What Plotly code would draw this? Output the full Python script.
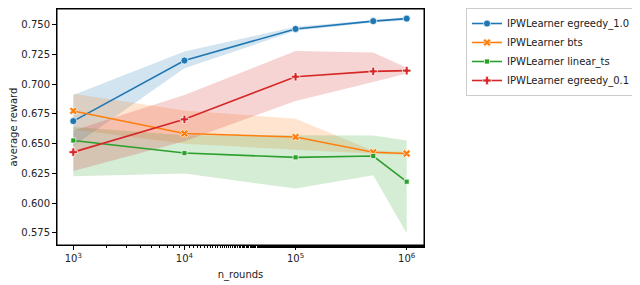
import plotly.graph_objects as go

n_rounds = [1000, 10000, 100000, 500000, 1000000]

series_names = ["IPWLearner egreedy_1.0", "IPWLearner bts", "IPWLearner linear_ts", "IPWLearner egreedy_0.1"]

egreedy10_mean = [0.669, 0.720, 0.7466, 0.7532, 0.7553]
egreedy10_lo = [0.648, 0.7135, 0.745, 0.752, 0.754]
egreedy10_hi = [0.691, 0.7276, 0.7485, 0.7545, 0.7565]

bts_mean = [0.6776, 0.6586, 0.6556, 0.6428, 0.6417]
bts_lo = [0.662, 0.650, 0.645, 0.6415, 0.6405]
bts_hi = [0.692, 0.678, 0.671, 0.644, 0.643]

lints_mean = [0.6527, 0.6421, 0.6385, 0.6396, 0.6180]
lints_lo = [0.6225, 0.625, 0.6122, 0.6234, 0.5745]
lints_hi = [0.664, 0.657, 0.657, 0.6569, 0.6527]

egreedy01_mean = [0.6429, 0.6705, 0.7064, 0.7109, 0.7115]
egreedy01_lo = [0.627, 0.652, 0.686, 0.702, 0.709]
egreedy01_hi = [0.661, 0.691, 0.728, 0.7268, 0.714]

y_ticks = [0.575, 0.600, 0.625, 0.650, 0.675, 0.700, 0.725, 0.750]
x_ticks = [1000, 10000, 100000, 1000000]
x_ticklabels = ["10<sup>3</sup>", "10<sup>4</sup>", "10<sup>5</sup>", "10<sup>6</sup>"]

colors = ["#1f77b4", "#ff7f0e", "#2ca02c", "#d62728"]
fills = ["rgba(31,119,180,0.2)", "rgba(255,127,14,0.2)", "rgba(44,160,44,0.2)", "rgba(214,39,40,0.2)"]
symbols = ["circle", "x", "square", "cross"]
sizes = [7, 7, 5, 7]

data = [
    (egreedy10_mean, egreedy10_lo, egreedy10_hi),
    (bts_mean, bts_lo, bts_hi),
    (lints_mean, lints_lo, lints_hi),
    (egreedy01_mean, egreedy01_lo, egreedy01_hi),
]

fig = go.Figure()
for i, (m, lo, hi) in enumerate(data):
    fig.add_trace(go.Scatter(
        x=n_rounds + n_rounds[::-1], y=hi + lo[::-1],
        fill="toself", fillcolor=fills[i], line=dict(width=0),
        mode="lines", showlegend=False, hoverinfo="skip"))
for i, (m, lo, hi) in enumerate(data):
    fig.add_trace(go.Scatter(
        x=n_rounds, y=m, name=series_names[i], mode="lines+markers",
        line=dict(color=colors[i], width=1.6),
        marker=dict(symbol=symbols[i], size=sizes[i], color=colors[i],
                    line=dict(color="white", width=0.7))))

axis_common = dict(showgrid=False, zeroline=False, showline=True, linecolor="black",
                   linewidth=1, mirror=True, ticks="outside", ticklen=4, automargin=False,
                   tickcolor="black", tickfont=dict(size=10, color="#222"))

fig.update_xaxes(type="log", range=[2.853, 6.156], tickvals=x_ticks, ticktext=x_ticklabels,
                 title=dict(text="n_rounds", font=dict(size=10, color="#222"), standoff=7),
                 minor=dict(ticks="outside", ticklen=2, tickcolor="black", showgrid=False),
                 **axis_common)
fig.update_yaxes(range=[0.5647, 0.7634], tickvals=y_ticks, tickformat=".3f",
                 title=dict(text="average reward", font=dict(size=10, color="#222"), standoff=5),
                 **axis_common)

# plot frame
fig.add_shape(type="rect", xref="paper", yref="paper", x0=0, y0=0, x1=1, y1=1,
              line=dict(color="black", width=1), fillcolor="rgba(0,0,0,0)", layer="above")

# page body has a default 8px margin, so the figure is sized to the visible area
fig.update_layout(
    width=632, height=277,
    margin=dict(l=49, r=216, t=1, b=40, autoexpand=False),
    plot_bgcolor="white", paper_bgcolor="white",
    font=dict(family="DejaVu Sans", size=10, color="#222"),
    legend=dict(xref="container", yref="container", x=0.7247, y=1.0,
                xanchor="left", yanchor="top",
                bordercolor="#cccccc", borderwidth=1, bgcolor="white",
                font=dict(size=10), tracegroupgap=0, itemwidth=30),
)

fig.write_html("out.html")
